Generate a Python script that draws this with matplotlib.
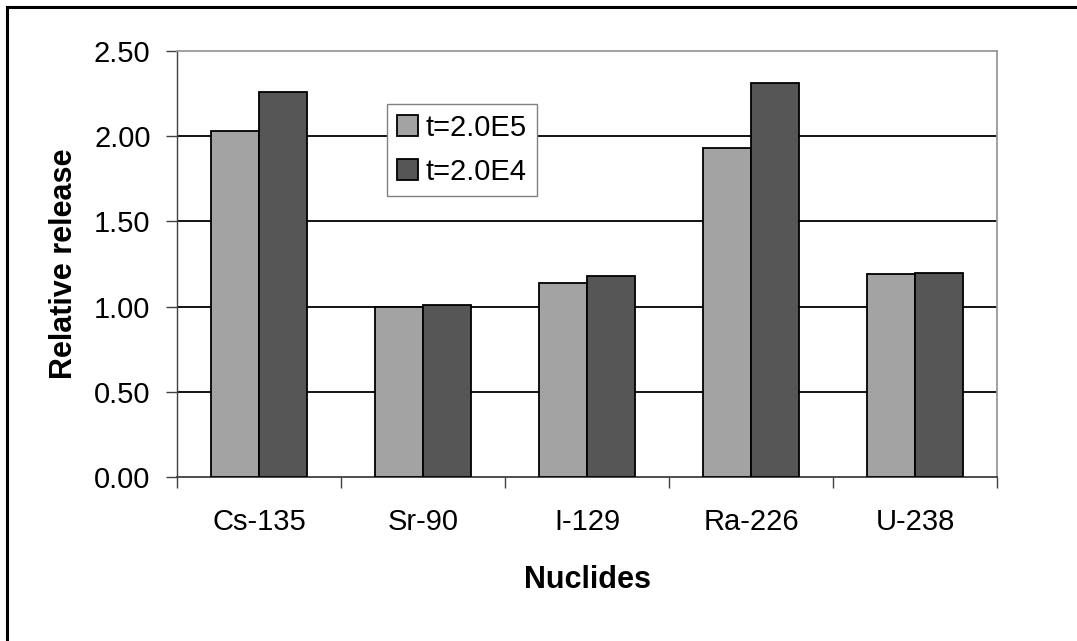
import matplotlib
matplotlib.use('Agg')
import matplotlib.pyplot as plt
import numpy as np

# data
nuclides = ['Cs-135', 'Sr-90', 'I-129', 'Ra-226', 'U-238']
release_2e5 = [2.03, 1.00, 1.14, 1.93, 1.19]
release_2e4 = [2.26, 1.01, 1.18, 2.31, 1.20]
series_names = ['t=2.0E5', 't=2.0E4']
yticks = [0.0, 0.5, 1.0, 1.5, 2.0, 2.5]

plt.rcParams['font.family'] = ['Liberation Sans', 'DejaVu Sans']

fig = plt.figure(figsize=(10.77, 6.41), dpi=100)
ax = fig.add_axes([177/1077, 1 - 477/641, 820/1077, 426/641])

x = np.arange(len(nuclides))
w = 0.29
ax.bar(x - w/2, release_2e5, w, color='#a3a3a3', edgecolor='black', linewidth=1.3,
       label=series_names[0], zorder=3)
ax.bar(x + w/2, release_2e4, w, color='#565656', edgecolor='black', linewidth=1.3,
       label=series_names[1], zorder=3)

ax.set_ylim(0, 2.5)
ax.set_xlim(-0.5, len(nuclides) - 0.5)
ax.set_yticks(yticks)
ax.set_yticklabels(['%.2f' % v for v in yticks])
for v in yticks[1:-1]:
    ax.axhline(v, color='black', linewidth=1.3, zorder=1)

# ticks on category boundaries, labels at the centres
ax.set_xticks(np.arange(-0.5, len(nuclides), 1.0))
ax.set_xticklabels([])
ax.set_xticks(x, minor=True)
ax.set_xticklabels(nuclides, minor=True)
ax.tick_params(axis='x', which='major', length=8, width=1, color='#404040', direction='out')
ax.tick_params(axis='x', which='minor', length=0, pad=22, labelsize=21)
ax.tick_params(axis='y', length=8, width=1, color='#404040', direction='out', pad=11, labelsize=21)

for s in ['top', 'right']:
    ax.spines[s].set_color('#999999')
    ax.spines[s].set_linewidth(1.3)
ax.spines['left'].set_color('#404040')
ax.spines['bottom'].set_color('#404040')
ax.spines['left'].set_linewidth(1.0)
ax.spines['bottom'].set_linewidth(1.3)

ax.set_xlabel('Nuclides', fontsize=22, fontweight='bold', labelpad=21)
ax.set_ylabel('Relative release', fontsize=22, fontweight='bold', labelpad=11)

leg = ax.legend(loc='upper left', bbox_to_anchor=(0.256, 0.876), fontsize=21,
                handlelength=0.72, handleheight=0.72, handletextpad=0.25,
                labelspacing=0.55, borderpad=0.35, fancybox=False, framealpha=1,
                edgecolor='#808080', borderaxespad=0)
leg.get_frame().set_linewidth(1.0)

# outer frame (only top and left edges visible in the reference)
fig.add_artist(plt.Line2D([7/1077, 1.0], [1 - 7/641, 1 - 7/641], transform=fig.transFigure,
                          color='black', linewidth=2.2))
fig.add_artist(plt.Line2D([7/1077, 7/1077], [0.0, 1 - 7/641], transform=fig.transFigure,
                          color='black', linewidth=2.2))

plt.savefig('out.png', dpi=100)
